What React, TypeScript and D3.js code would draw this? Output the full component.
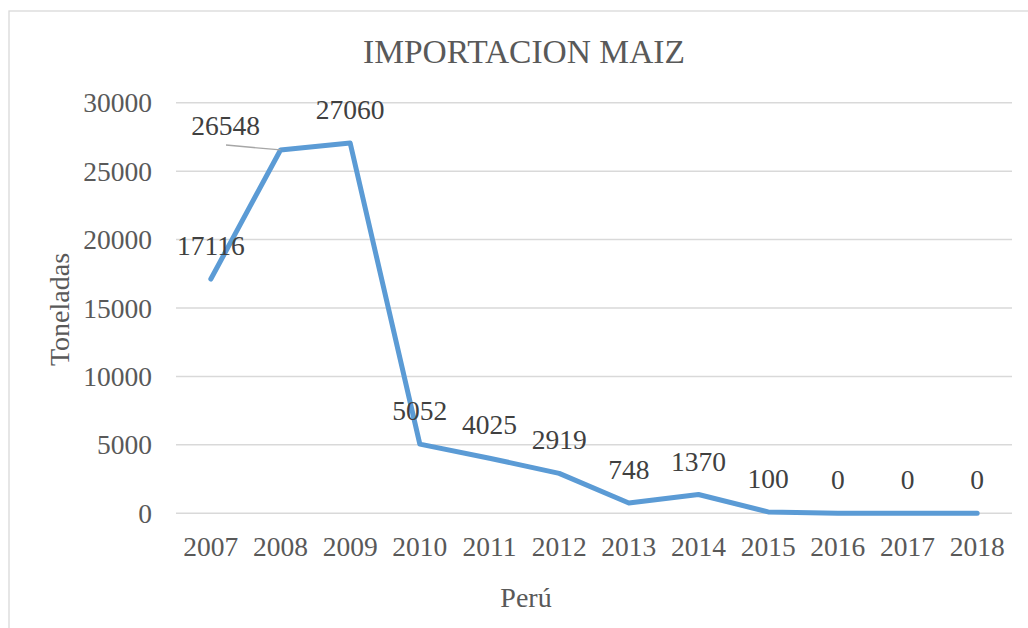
import React from "react";
import * as d3 from "d3";

const years = ["2007","2008","2009","2010","2011","2012","2013","2014","2015","2016","2017","2018"];
const values = [17116, 26548, 27060, 5052, 4025, 2919, 748, 1370, 100, 0, 0, 0];
const yTicks = [0, 5000, 10000, 15000, 20000, 25000, 30000];
const title = "IMPORTACION MAIZ";
const yTitle = "Toneladas";
const xTitle = "Perú";

const W = 1028, H = 628;
const FONT = "'Liberation Serif', 'Times New Roman', serif";

export default function App() {
  const x = d3.scaleBand<string>().domain(years).range([176, 1012]);
  const y = d3.scaleLinear().domain([0, 30000]).range([513.3, 102.7]);
  const cx = (d: string) => (x(d) as number) + x.bandwidth() / 2;
  const line = d3.line<number>().x((_, i) => cx(years[i])).y((v) => y(v));

  // label position for 2008 is moved left with a leader line
  const labelPos = (i: number) => {
    if (i === 1) return { lx: cx(years[i]) - 55, ly: y(values[i]) - 14.5, leader: true };
    return { lx: cx(years[i]), ly: y(values[i]) - 24, leader: false };
  };

  return (
    <svg width={W} height={H} style={{ position: "absolute", left: 0, top: 0, background: "#fff", fontFamily: FONT }}>
      <rect x={9} y={11} width={1040} height={640} fill="#fff" stroke="#d9d9d9" strokeWidth={1.3} />
      <text x={524} y={63} textAnchor="middle" fontSize={33.5} fill="#595959">{title}</text>
      {yTicks.map((t) => (
        <g key={t}>
          <line x1={176} x2={1012} y1={y(t)} y2={y(t)} stroke="#d9d9d9" strokeWidth={1.5} />
          <text x={152} y={y(t) + 9.5} textAnchor="end" fontSize={27.5} fill="#595959">{t}</text>
        </g>
      ))}
      {years.map((yr) => (
        <text key={yr} x={cx(yr)} y={556} textAnchor="middle" fontSize={27.5} fill="#595959">{yr}</text>
      ))}
      <text transform={`translate(69,309.5) rotate(-90)`} textAnchor="middle" fontSize={28} fill="#595959">{yTitle}</text>
      <text x={526} y={607} textAnchor="middle" fontSize={28} fill="#595959">{xTitle}</text>
      <path d={line(values) as string} fill="none" stroke="#5B9BD5" strokeWidth={5} strokeLinecap="round" strokeLinejoin="round" />
      {values.map((v, i) => {
        const p = labelPos(i);
        return (
          <g key={i}>
            {p.leader && (
              <line x1={226} x2={cx(years[i])} y1={145} y2={y(v)} stroke="#a6a6a6" strokeWidth={1.3} />
            )}
            <text x={p.lx} y={p.ly} textAnchor="middle" fontSize={27.5} fill="#404040">{v}</text>
          </g>
        );
      })}
    </svg>
  );
}
